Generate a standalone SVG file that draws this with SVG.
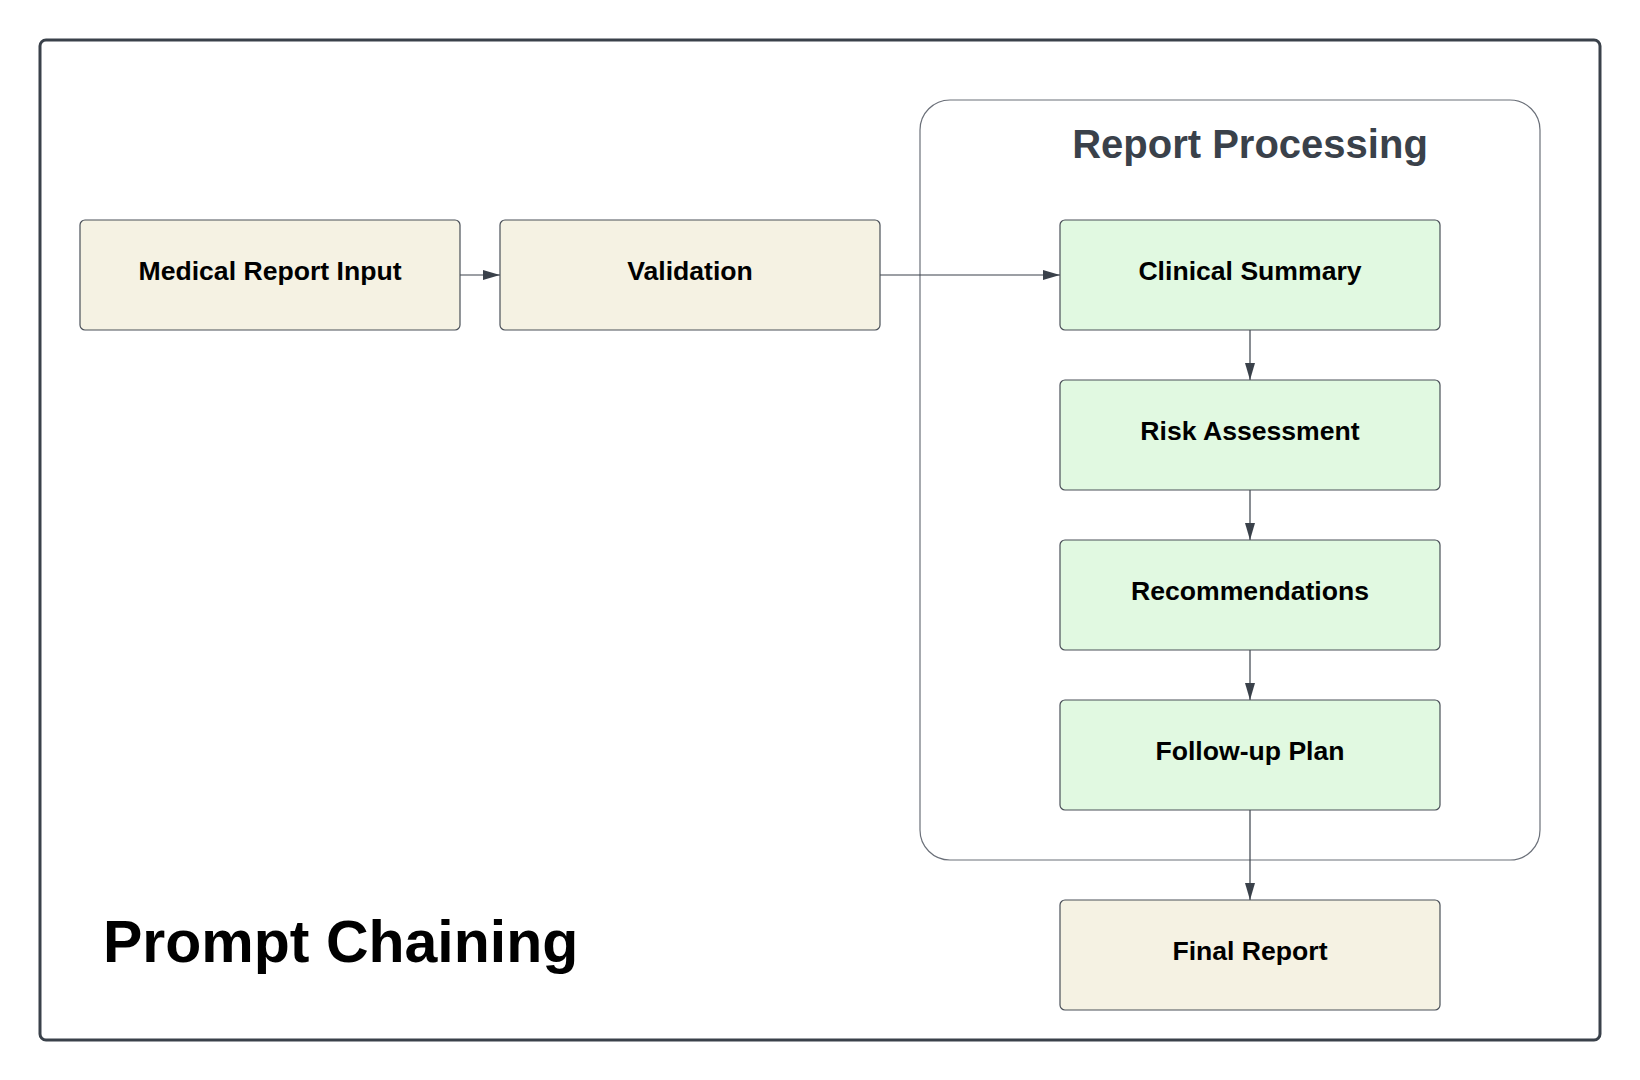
<svg xmlns="http://www.w3.org/2000/svg" width="1640" height="1080" viewBox="0 0 1640 1080">
<defs>
<style>
.frame{fill:#ffffff;stroke:#3a414a;stroke-width:3}
.group{fill:none;stroke:#6b7079;stroke-width:1.2}
.beige{fill:#f5f2e3;stroke:#4a5058;stroke-width:1.2}
.green{fill:#e1f9e1;stroke:#4a5058;stroke-width:1.2}
.lbl{font-family:"Liberation Sans",Arial,sans-serif;font-weight:bold;font-size:26.6px;fill:#000000;text-anchor:middle}
.gtitle{font-family:"Liberation Sans",Arial,sans-serif;font-weight:bold;font-size:40px;fill:#3a414a;text-anchor:middle}
.title{font-family:"Liberation Sans",Arial,sans-serif;font-weight:bold;font-size:59px;fill:#000000}
.edge{fill:none;stroke:#3a414a;stroke-width:1.2}
</style>
<marker id="arrow" markerUnits="userSpaceOnUse" markerWidth="17" markerHeight="10" refX="17" refY="5" orient="auto">
<path d="M0,0 L17,5 L0,10 z" fill="#3a414a"/>
</marker>
</defs>
<rect x="0" y="0" width="1640" height="1080" fill="#ffffff"/>
<rect class="frame" x="40" y="40" width="1560" height="1000" rx="6"/>
<g id="report-processing">
<rect class="group" x="920" y="100" width="620" height="760" rx="30"/>
<text class="gtitle" x="1250" y="158">Report Processing</text>
</g>
<g id="connectors">
<line class="edge" x1="460" y1="275" x2="500" y2="275" marker-end="url(#arrow)"/>
<line class="edge" x1="880" y1="275" x2="1060" y2="275" marker-end="url(#arrow)"/>
<line class="edge" x1="1250" y1="330" x2="1250" y2="380" marker-end="url(#arrow)"/>
<line class="edge" x1="1250" y1="490" x2="1250" y2="540" marker-end="url(#arrow)"/>
<line class="edge" x1="1250" y1="650" x2="1250" y2="700" marker-end="url(#arrow)"/>
<line class="edge" x1="1250" y1="810" x2="1250" y2="900" marker-end="url(#arrow)"/>
</g>
<g id="medical-report-input">
<rect class="beige" x="80" y="220" width="380" height="110" rx="5"/>
<text class="lbl" x="270" y="280">Medical Report Input</text>
</g>
<g id="validation">
<rect class="beige" x="500" y="220" width="380" height="110" rx="5"/>
<text class="lbl" x="690" y="280">Validation</text>
</g>
<g id="clinical-summary">
<rect class="green" x="1060" y="220" width="380" height="110" rx="5"/>
<text class="lbl" x="1250" y="280">Clinical Summary</text>
</g>
<g id="risk-assessment">
<rect class="green" x="1060" y="380" width="380" height="110" rx="5"/>
<text class="lbl" x="1250" y="440">Risk Assessment</text>
</g>
<g id="recommendations">
<rect class="green" x="1060" y="540" width="380" height="110" rx="5"/>
<text class="lbl" x="1250" y="600">Recommendations</text>
</g>
<g id="follow-up-plan">
<rect class="green" x="1060" y="700" width="380" height="110" rx="5"/>
<text class="lbl" x="1250" y="760">Follow-up Plan</text>
</g>
<g id="final-report">
<rect class="beige" x="1060" y="900" width="380" height="110" rx="5"/>
<text class="lbl" x="1250" y="960">Final Report</text>
</g>
<text class="title" x="103" y="962">Prompt Chaining</text>
</svg>
